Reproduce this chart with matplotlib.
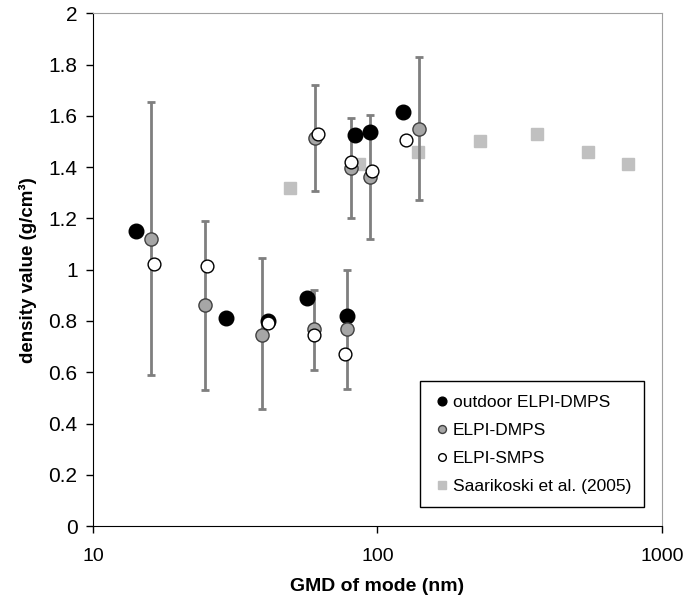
import numpy as np
import matplotlib
matplotlib.use("Agg")
import matplotlib.pyplot as plt
from matplotlib.ticker import FormatStrFormatter, NullLocator

plt.rcParams['font.family'] = ['Liberation Sans', 'DejaVu Sans']

# outdoor ELPI-DMPS
out_x = [14.2, 29.3, 41.2, 56.4, 78.0, 83.4, 94.2, 123.0]
out_y = [1.15, 0.81, 0.80, 0.89, 0.82, 1.525, 1.537, 1.615]

# ELPI-DMPS with error bars
dmps_x = [16.0, 24.8, 39.2, 60.4, 60.0, 78.0, 81.1, 94.4, 140.0]
dmps_y = [1.12, 0.862, 0.747, 1.515, 0.767, 0.768, 1.397, 1.362, 1.550]
dmps_hi = [1.654, 1.190, 1.044, 1.722, 0.920, 1.000, 1.593, 1.605, 1.830]
dmps_lo = [0.590, 0.530, 0.455, 1.306, 0.607, 0.533, 1.203, 1.119, 1.270]

# ELPI-SMPS
smps_x = [16.4, 25.2, 41.1, 61.9, 60.0, 76.9, 81.0, 95.5, 126.0]
smps_y = [1.021, 1.013, 0.793, 1.528, 0.747, 0.673, 1.420, 1.385, 1.505]

# Saarikoski et al. (2005)
saa_x = [49.5, 86.3, 139.0, 229.0, 365.0, 552.0, 762.0]
saa_y = [1.320, 1.411, 1.459, 1.501, 1.530, 1.459, 1.411]

fig = plt.figure(figsize=(6.88, 6.02), dpi=100)
ax = fig.add_axes([0.135, 0.126, 0.827, 0.852])

dmps_y = np.array(dmps_y)
yerr = [dmps_y - np.array(dmps_lo), np.array(dmps_hi) - dmps_y]

ax.plot(saa_x, saa_y, 's', color='#c0c0c0', markersize=8.8, label='Saarikoski et al. (2005)', zorder=2)
ax.errorbar(dmps_x, dmps_y, yerr=yerr, fmt='none', ecolor='#7f7f7f', elinewidth=2,
            capsize=3, capthick=2, zorder=3)
ax.plot(out_x, out_y, 'o', color='black', markersize=10.5, label='outdoor ELPI-DMPS', zorder=4)
ax.plot(dmps_x, dmps_y, 'o', markerfacecolor='#a6a6a6', markeredgecolor='#404040',
        markeredgewidth=1, markersize=9.5, label='ELPI-DMPS', zorder=5)
ax.plot(smps_x, smps_y, 'o', markerfacecolor='white', markeredgecolor='black',
        markeredgewidth=1, markersize=9.2, label='ELPI-SMPS', zorder=6)

ax.set_xscale('log')
ax.set_xlim(10, 1000)
ax.set_ylim(0, 2)
ax.set_yticks(np.arange(0, 2.01, 0.2))
ax.yaxis.set_major_formatter(FormatStrFormatter('%g'))
ax.set_xticks([10, 100, 1000])
ax.set_xticklabels(['10', '100', '1000'])
ax.xaxis.set_minor_locator(NullLocator())

for s in ['top', 'right']:
    ax.spines[s].set_color('#a0a0a0')
for s in ['left', 'bottom']:
    ax.spines[s].set_color('black')
ax.tick_params(axis='both', direction='out', length=5, width=1)
ax.tick_params(axis='x', labelsize=14, pad=11)
ax.tick_params(axis='y', labelsize=15, pad=6)

ax.set_xlabel('GMD of mode (nm)', fontsize=14, fontweight='bold', labelpad=9)
ax.set_ylabel('density value (g/cm³)', fontsize=13.5, fontweight='bold', labelpad=8)

h, l = ax.get_legend_handles_labels()
order = [1, 2, 3, 0]
leg = ax.legend([h[i] for i in order], [l[i] for i in order], loc='lower right',
                bbox_to_anchor=(0.984, 0.02), fontsize=12.5, markerscale=0.6,
                handlelength=1.1, handletextpad=0.05, fancybox=False,
                edgecolor='black', framealpha=1, borderpad=0.75, labelspacing=0.75)
leg.get_frame().set_linewidth(1)

fig.savefig('out.png', dpi=100)
